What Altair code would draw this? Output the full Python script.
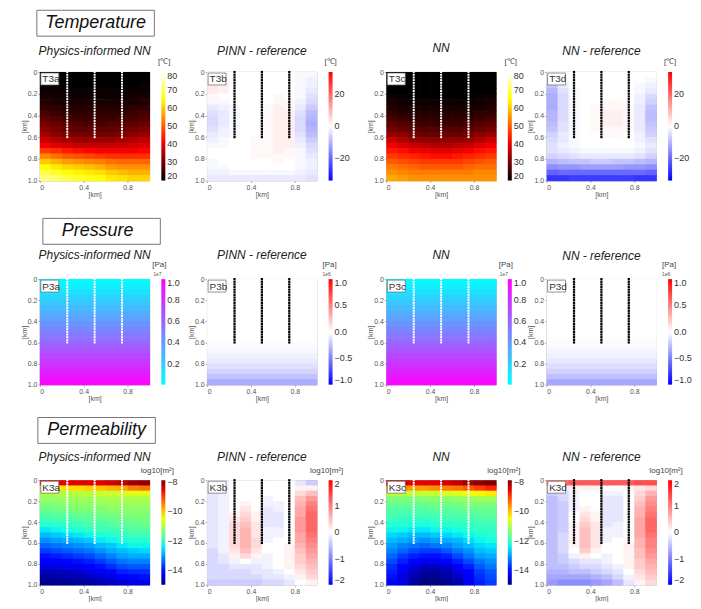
import altair as alt
import pandas as pd

FONT = "Liberation Sans"

# ---------------- grid geometry (km) ----------------
X_EDGES = [0.0, 0.1, 0.2, 0.3, 0.4, 0.5, 0.6, 0.7, 0.8, 0.9, 1.0]
Y_EDGES = [0.0, 0.05, 0.1, 0.15, 0.2, 0.25, 0.3, 0.35, 0.4, 0.45, 0.5,
           0.55, 0.6, 0.65, 0.7, 0.75, 0.8, 0.85, 0.9, 0.95, 1.0]
WELL_X = [0.25, 0.5, 0.75]
WELL_DEPTHS = [0.0, 0.025, 0.05, 0.075, 0.1, 0.125, 0.15, 0.175, 0.2, 0.225,
               0.25, 0.275, 0.3, 0.325, 0.35, 0.375, 0.4, 0.425, 0.45, 0.475,
               0.5, 0.525, 0.55, 0.575, 0.6]

# ---------------- temperature [degC] ----------------
T3A = [
    [20, 20, 20, 20, 20, 20, 20, 20, 20, 20],
    [20, 20, 20, 20, 20, 20, 20, 20, 20, 20],
    [21, 20, 20, 20, 20, 20, 20, 20, 20, 21],
    [21, 21, 21, 21, 21, 21, 21, 21, 21, 21],
    [22, 22, 21, 21, 21, 21, 21, 21, 22, 22],
    [23, 22, 22, 22, 22, 22, 22, 22, 22, 23],
    [24, 24, 23, 23, 23, 23, 23, 23, 24, 24],
    [26, 25, 24, 24, 24, 24, 24, 24, 25, 26],
    [28, 27, 26, 25, 25, 25, 25, 26, 26, 27],
    [30, 29, 27, 27, 26, 26, 27, 27, 28, 29],
    [32, 30, 29, 28, 28, 28, 28, 29, 30, 31],
    [34, 32, 31, 30, 30, 30, 30, 31, 32, 33],
    [37, 35, 34, 33, 33, 33, 33, 34, 35, 36],
    [41, 39, 38, 37, 37, 37, 37, 37, 38, 39],
    [47, 46, 44, 43, 42, 41, 41, 41, 41, 42],
    [54, 52, 50, 49, 48, 47, 46, 46, 46, 46],
    [60, 58, 56, 55, 54, 53, 52, 51, 51, 51],
    [65, 63, 61, 60, 59, 58, 56, 55, 55, 55],
    [69, 67, 65, 64, 63, 62, 60, 59, 58, 58],
    [72, 71, 69, 67, 66, 65, 63, 62, 61, 61],
]
T3B = [
    [1, 1, 0, 0, 0, 0, 0, 0, -1, -1],
    [2, 1, 0, 0, 0, 0, 0, 0, -1, -2],
    [3, 2, 0, 0, 0, 0, 0, 0, -1, -2],
    [3, 2, 0, 0, 0, 0, 0, 0, -1, -3],
    [1, 0, 0, 0, 0, 0, 1, 0, -1, -4],
    [-1, -1, 0, 0, 0, 0, 1, 1, -2, -5],
    [-3, -2, -1, 0, 0, 1, 2, 1, -3, -7],
    [-4, -3, -1, 0, 0, 1, 2, 2, -4, -9],
    [-5, -3, -1, 0, 0, 1, 2, 2, -5, -10],
    [-5, -3, -1, 0, 0, 1, 2, 2, -5, -11],
    [-4, -2, -1, 0, 0, 1, 2, 2, -5, -10],
    [-3, -2, -1, 0, 0, 1, 2, 2, -4, -9],
    [-2, -1, 0, 0, 1, 1, 2, 2, -3, -7],
    [-1, -1, 0, 0, 1, 1, 2, 2, -2, -5],
    [0, 0, 0, 0, 1, 1, 2, 1, -1, -4],
    [0, 0, 0, 0, 1, 1, 1, 1, -1, -3],
    [-1, 0, 0, 0, 0, 0, 1, 0, -1, -2],
    [-1, -1, 0, 0, 0, 0, 0, 0, -1, -2],
    [-2, -2, -1, -1, -1, -1, -1, -1, -2, -3],
    [-3, -3, -3, -3, -3, -3, -3, -3, -3, -4],
]
T3C = [
    [20, 20, 20, 20, 20, 20, 20, 20, 20, 20],
    [20, 20, 20, 20, 20, 20, 20, 20, 20, 20],
    [20, 20, 20, 20, 20, 20, 20, 20, 20, 20],
    [20, 20, 20, 20, 20, 20, 20, 20, 20, 20],
    [21, 21, 20, 20, 20, 20, 20, 20, 21, 21],
    [22, 21, 21, 21, 21, 21, 21, 21, 21, 22],
    [23, 22, 22, 22, 22, 22, 22, 22, 22, 23],
    [24, 23, 23, 23, 23, 23, 23, 23, 24, 24],
    [26, 25, 24, 24, 24, 24, 24, 24, 25, 26],
    [28, 27, 26, 25, 25, 25, 25, 26, 27, 28],
    [30, 29, 28, 27, 27, 27, 27, 28, 29, 30],
    [33, 32, 30, 29, 29, 29, 29, 30, 32, 33],
    [37, 35, 33, 32, 32, 32, 32, 33, 35, 37],
    [41, 39, 37, 36, 35, 35, 36, 37, 39, 41],
    [44, 43, 41, 40, 39, 39, 40, 41, 43, 44],
    [47, 46, 45, 44, 43, 43, 44, 45, 46, 47],
    [50, 49, 48, 47, 47, 47, 47, 48, 49, 50],
    [53, 52, 51, 50, 50, 50, 50, 51, 52, 52],
    [55, 54, 53, 53, 53, 53, 53, 53, 54, 54],
    [57, 56, 55, 55, 55, 55, 55, 55, 55, 55],
]
T3D = [
    [-2, 0, 0, 0, 0, 0, 0, 0, 0, 0],
    [-5, -1, 0, 0, 0, 0, 0, 0, 0, -1],
    [-8, -3, 0, 0, 0, 0, 0, 0, -1, -2],
    [-10, -4, -1, 0, 0, 0, 0, 0, -1, -3],
    [-11, -5, -1, 0, 0, 0, 0, 0, -2, -5],
    [-11, -5, -1, 0, 0, 1, 1, 0, -2, -6],
    [-11, -5, -1, 0, 1, 1, 1, 1, -3, -8],
    [-10, -5, -1, 0, 1, 2, 2, 1, -3, -9],
    [-10, -5, -1, 0, 1, 2, 2, 1, -3, -9],
    [-9, -4, -1, 0, 1, 2, 2, 1, -3, -8],
    [-8, -4, -1, 0, 1, 1, 1, 1, -3, -7],
    [-6, -3, -1, 0, 0, 1, 1, 0, -2, -6],
    [-5, -3, -1, 0, 0, 0, 0, 0, -2, -4],
    [-4, -2, -1, 0, 0, 0, 0, 0, -1, -3],
    [-4, -3, -2, -1, -1, -1, -1, -1, -2, -4],
    [-6, -5, -4, -3, -3, -3, -3, -3, -4, -6],
    [-10, -9, -8, -8, -7, -7, -8, -8, -9, -10],
    [-15, -14, -14, -13, -13, -13, -13, -14, -14, -15],
    [-21, -20, -20, -20, -20, -20, -20, -20, -20, -21],
    [-27, -27, -26, -26, -26, -26, -26, -26, -27, -27],
]

# ---------------- pressure [x1e7 Pa / x1e6 Pa], depth profiles ----------------
P3A = [0.02, 0.07, 0.12, 0.17, 0.22, 0.27, 0.32, 0.37, 0.42, 0.47,
       0.52, 0.57, 0.62, 0.67, 0.72, 0.77, 0.82, 0.87, 0.92, 0.97]
P3B = [0, 0, 0, 0, 0, 0, 0, 0, 0, 0,
       0, 0, -0.01, -0.03, -0.05, -0.08, -0.12, -0.17, -0.24, -0.33]
P3C = [0.02, 0.07, 0.12, 0.17, 0.22, 0.27, 0.32, 0.37, 0.42, 0.47,
       0.52, 0.57, 0.62, 0.67, 0.72, 0.77, 0.82, 0.87, 0.92, 0.97]
P3D = [0, 0, 0, 0, 0, 0, 0, 0, 0, 0,
       0, -0.01, -0.02, -0.04, -0.06, -0.09, -0.13, -0.18, -0.25, -0.35]

# ---------------- permeability [log10 m2] ----------------
K3A = [
    [-8.5, -8.5, -8.5, -8.5, -8.5, -8.5, -8.4, -8.3, -8.1, -8.0],
    [-10.3, -10.3, -10.2, -10.2, -10.1, -10.0, -9.9, -9.8, -9.5, -9.4],
    [-11.0, -11.0, -11.0, -10.9, -10.9, -10.8, -10.8, -10.7, -10.6, -10.6],
    [-11.2, -11.2, -11.2, -11.1, -11.1, -11.1, -11.0, -11.0, -11.0, -11.0],
    [-11.4, -11.4, -11.3, -11.3, -11.3, -11.2, -11.2, -11.2, -11.2, -11.2],
    [-11.6, -11.5, -11.5, -11.4, -11.4, -11.4, -11.3, -11.3, -11.3, -11.3],
    [-11.8, -11.7, -11.7, -11.6, -11.6, -11.5, -11.5, -11.4, -11.4, -11.4],
    [-12.0, -11.9, -11.9, -11.8, -11.7, -11.7, -11.6, -11.6, -11.5, -11.5],
    [-12.2, -12.2, -12.1, -12.0, -11.9, -11.9, -11.8, -11.7, -11.7, -11.6],
    [-12.5, -12.4, -12.3, -12.2, -12.1, -12.0, -12.0, -11.9, -11.8, -11.8],
    [-12.8, -12.7, -12.6, -12.5, -12.4, -12.3, -12.2, -12.1, -12.0, -12.0],
    [-13.1, -13.0, -12.9, -12.8, -12.7, -12.5, -12.4, -12.3, -12.2, -12.2],
    [-13.4, -13.3, -13.2, -13.1, -13.0, -12.8, -12.7, -12.5, -12.4, -12.4],
    [-13.7, -13.6, -13.5, -13.4, -13.3, -13.1, -12.9, -12.8, -12.7, -12.6],
    [-14.0, -13.9, -13.8, -13.7, -13.6, -13.4, -13.2, -13.0, -12.9, -12.9],
    [-14.2, -14.1, -14.1, -14.0, -13.9, -13.7, -13.5, -13.3, -13.2, -13.2],
    [-14.4, -14.4, -14.3, -14.3, -14.2, -14.0, -13.8, -13.6, -13.5, -13.5],
    [-14.6, -14.6, -14.6, -14.5, -14.4, -14.3, -14.1, -13.9, -13.8, -13.8],
    [-14.8, -14.8, -14.7, -14.7, -14.6, -14.5, -14.4, -14.2, -14.1, -14.0],
    [-14.9, -14.9, -14.9, -14.8, -14.8, -14.7, -14.6, -14.5, -14.4, -14.3],
]
K3B = [
    [-0.1, -0.1, 0, 0, 0, 0, 0, 0, -0.2, -0.4],
    [-0.2, -0.1, 0, 0, 0, 0, 0, 0, 0.1, 0.1],
    [-0.2, -0.1, 0, 0, 0, 0, 0, 0, 0.3, 0.5],
    [-0.2, -0.1, 0, 0, 0, -0.1, 0, 0, 0.5, 0.8],
    [-0.2, -0.1, 0, 0.1, 0, -0.1, -0.1, 0, 0.6, 1.0],
    [-0.2, -0.1, 0, 0.2, 0, -0.2, -0.1, 0, 0.7, 1.1],
    [-0.2, -0.1, 0.1, 0.3, 0.1, -0.2, -0.2, 0, 0.7, 1.2],
    [-0.2, -0.1, 0.2, 0.4, 0.1, -0.2, -0.2, 0, 0.8, 1.2],
    [-0.2, -0.1, 0.3, 0.5, 0.2, -0.2, -0.2, 0, 0.8, 1.2],
    [-0.2, -0.1, 0.3, 0.6, 0.2, -0.1, -0.1, 0, 0.8, 1.2],
    [-0.2, -0.1, 0.3, 0.6, 0.2, -0.1, -0.1, 0, 0.7, 1.1],
    [-0.2, -0.1, 0.3, 0.6, 0.3, -0.1, 0, 0, 0.7, 1.0],
    [-0.2, -0.1, 0.3, 0.6, 0.3, 0, 0, 0.1, 0.6, 0.9],
    [-0.3, -0.1, 0.2, 0.5, 0.2, 0, 0, 0.1, 0.5, 0.8],
    [-0.3, -0.2, 0.1, 0.3, 0.1, -0.1, 0, 0.1, 0.4, 0.7],
    [-0.3, -0.2, -0.1, 0, -0.1, -0.1, 0, 0.1, 0.4, 0.6],
    [-0.3, -0.3, -0.2, -0.2, -0.2, -0.1, 0, 0.1, 0.3, 0.5],
    [-0.3, -0.3, -0.3, -0.3, -0.2, -0.2, -0.1, 0, 0.2, 0.4],
    [-0.3, -0.3, -0.3, -0.3, -0.3, -0.2, -0.2, -0.1, 0.1, 0.3],
    [-0.4, -0.4, -0.4, -0.4, -0.4, -0.3, -0.3, -0.2, 0, 0.1],
]
K3C = [
    [-8.4, -8.4, -8.5, -8.5, -8.5, -8.4, -8.3, -8.1, -8.0, -7.9],
    [-9.6, -9.6, -9.7, -9.7, -9.6, -9.5, -9.4, -9.2, -9.0, -8.8],
    [-10.9, -10.9, -10.9, -10.8, -10.8, -10.7, -10.6, -10.5, -10.4, -10.3],
    [-11.4, -11.4, -11.4, -11.3, -11.3, -11.3, -11.2, -11.2, -11.1, -11.1],
    [-11.6, -11.6, -11.6, -11.6, -11.5, -11.5, -11.5, -11.4, -11.4, -11.4],
    [-11.8, -11.8, -11.8, -11.8, -11.7, -11.7, -11.7, -11.6, -11.6, -11.6],
    [-11.9, -11.9, -11.9, -11.9, -11.9, -11.8, -11.8, -11.8, -11.7, -11.7],
    [-12.0, -12.1, -12.1, -12.1, -12.0, -12.0, -12.0, -11.9, -11.9, -11.8],
    [-12.2, -12.2, -12.3, -12.3, -12.2, -12.2, -12.1, -12.1, -12.0, -12.0],
    [-12.4, -12.4, -12.5, -12.5, -12.4, -12.4, -12.3, -12.2, -12.1, -12.1],
    [-12.6, -12.7, -12.8, -12.8, -12.7, -12.6, -12.5, -12.4, -12.3, -12.2],
    [-12.8, -12.9, -13.0, -13.1, -13.0, -12.9, -12.8, -12.6, -12.4, -12.3],
    [-13.0, -13.2, -13.3, -13.4, -13.3, -13.2, -13.0, -12.8, -12.6, -12.5],
    [-13.2, -13.4, -13.6, -13.7, -13.7, -13.5, -13.3, -13.1, -12.8, -12.7],
    [-13.4, -13.7, -13.9, -14.0, -14.0, -13.9, -13.6, -13.3, -13.0, -12.9],
    [-13.6, -13.9, -14.2, -14.3, -14.3, -14.2, -13.9, -13.6, -13.3, -13.1],
    [-13.8, -14.1, -14.4, -14.6, -14.6, -14.5, -14.2, -13.9, -13.5, -13.3],
    [-13.9, -14.3, -14.6, -14.8, -14.8, -14.7, -14.4, -14.1, -13.7, -13.5],
    [-14.0, -14.4, -14.7, -14.9, -14.9, -14.8, -14.6, -14.2, -13.8, -13.6],
    [-14.1, -14.4, -14.8, -15.0, -15.0, -14.9, -14.7, -14.3, -13.9, -13.7],
]
K3D = [
    [1.2, 1.2, 1.3, 1.3, 1.3, 1.3, 1.3, 1.3, 1.4, 1.4],
    [-0.2, -0.1, 0.1, 0.1, 0.1, 0, 0, 0.1, 0.2, 0.3],
    [-0.4, -0.3, -0.1, 0, 0, -0.1, -0.1, 0, 0.3, 0.6],
    [-0.5, -0.3, -0.1, 0, 0, -0.2, -0.2, 0, 0.4, 0.8],
    [-0.5, -0.4, -0.1, 0, 0, -0.2, -0.2, 0, 0.5, 0.9],
    [-0.5, -0.4, -0.1, 0.1, 0, -0.2, -0.2, 0, 0.6, 1.0],
    [-0.5, -0.4, 0, 0.2, 0.1, -0.2, -0.2, 0, 0.6, 1.1],
    [-0.5, -0.4, 0, 0.3, 0.1, -0.2, -0.2, 0, 0.7, 1.2],
    [-0.5, -0.4, 0.1, 0.4, 0.2, -0.2, -0.1, 0, 0.7, 1.2],
    [-0.5, -0.4, 0.1, 0.5, 0.2, -0.1, -0.1, 0, 0.7, 1.2],
    [-0.5, -0.3, 0.1, 0.5, 0.2, -0.1, -0.1, 0, 0.7, 1.1],
    [-0.5, -0.3, 0.1, 0.5, 0.2, -0.1, 0, 0, 0.6, 1.0],
    [-0.5, -0.3, 0.1, 0.5, 0.2, 0, 0, 0.1, 0.6, 1.0],
    [-0.5, -0.3, 0, 0.4, 0.1, 0, 0, 0.1, 0.5, 0.9],
    [-0.5, -0.4, -0.1, 0.1, 0, -0.1, 0, 0.1, 0.5, 0.8],
    [-0.5, -0.4, -0.3, -0.2, -0.2, -0.1, 0, 0.1, 0.4, 0.7],
    [-0.5, -0.5, -0.4, -0.3, -0.3, -0.2, -0.1, 0.1, 0.4, 0.6],
    [-0.6, -0.6, -0.5, -0.5, -0.4, -0.3, -0.2, 0, 0.3, 0.5],
    [-0.7, -0.7, -0.7, -0.7, -0.6, -0.5, -0.3, -0.1, 0.2, 0.4],
    [-0.8, -0.9, -0.9, -0.9, -0.8, -0.7, -0.5, -0.2, 0.1, 0.3],
]

# ---------------- colour maps (matplotlib hot / bwr / cool / jet) ----------------
JET_T = [0.0, 0.11, 0.125, 0.34, 0.375, 0.5, 0.64, 0.66, 0.89, 0.91, 1.0]
JET_C = ["#000080", "#0000ff", "#0000ff", "#00dbff", "#14ffe3", "#7aff7a",
         "#f0ff08", "#ffed00", "#ff1200", "#e80000", "#800000"]


def scale_hot():
    return alt.Scale(domain=[20, 41.9, 64.8, 80],
                     range=["#000000", "#ff0000", "#ffff00", "#ffffff"],
                     interpolate="rgb", clamp=True)


def scale_bwr(m):
    return alt.Scale(domain=[-m, 0, m], range=["#0000ff", "#ffffff", "#ff0000"],
                     interpolate="rgb", clamp=True)


def scale_cool():
    return alt.Scale(domain=[0, 1], range=["#00ffff", "#ff00ff"],
                     interpolate="rgb", clamp=True)


def scale_jet():
    return alt.Scale(domain=[-15 + 7.1 * t for t in JET_T], range=JET_C,
                     interpolate="rgb", clamp=True)


def grid_frame(grid):
    recs = []
    for i, row in enumerate(grid):
        for j, v in enumerate(row):
            recs.append({"x0": X_EDGES[j], "x1": X_EDGES[j + 1],
                         "y0": Y_EDGES[i], "y1": Y_EDGES[i + 1], "v": v})
    return pd.DataFrame(recs)


def profile_frame(profile):
    return pd.DataFrame([{"x0": X_EDGES[0], "x1": X_EDGES[-1],
                          "y0": Y_EDGES[i], "y1": Y_EDGES[i + 1], "v": v}
                         for i, v in enumerate(profile)])


WELLS = pd.DataFrame([{"wx": x, "wd": d} for x in WELL_X for d in WELL_DEPTHS])
ONE = pd.DataFrame({"k": [0]})

LBL = "datum.value == 0 ? '0' : format(datum.value, '.1f')"
AX = dict(labelFontSize=7, labelColor="#555", labelFont=FONT, tickColor="#777",
          tickSize=2, tickWidth=0.6, labelPadding=1, titleFontSize=7,
          titleFont=FONT, titleColor="#555", titleFontWeight="normal",
          titlePadding=0, domain=False, grid=False, labelOverlap=False)
X_TICKS = [0, 0.4, 0.8]
Y_TICKS = [0, 0.2, 0.4, 0.6, 0.8, 1.0]

W = 110


def panel(df, scale_fn, values, fmt, cb_title, cb_tx, cb_ty, label, title,
          title_y, dark, h, exp_text=None, exp_x=0, exp_y=0):
    xs = alt.Scale(domain=[0, 1], nice=False, zero=False)
    ys = alt.Scale(domain=[0, 1], nice=False, zero=False, reverse=True)
    heat = alt.Chart(df).mark_rect(x2Offset=0.7, y2Offset=0.7).encode(
        x=alt.X("x0:Q", title="[km]", scale=xs,
                axis=alt.Axis(values=X_TICKS, labelExpr=LBL, **AX)),
        x2="x1",
        y=alt.Y("y0:Q", title="[km]", scale=ys,
                axis=alt.Axis(values=Y_TICKS, labelExpr=LBL, **AX)),
        y2="y1",
        color=alt.Color("v:Q", scale=scale_fn(), legend=alt.Legend(
            type="gradient", orient="none", legendX=122, legendY=0,
            direction="vertical", gradientLength=h, gradientThickness=4,
            gradientStrokeWidth=0, values=values, format=fmt, labelFontSize=9,
            labelFont=FONT, labelColor="#333", labelOffset=2,
            labelOverlap=False, title=None, padding=0)),
    )
    wells = alt.Chart(WELLS).mark_square(
        size=5 if dark else 4, color="#000000" if dark else "#ffffff", opacity=1
    ).encode(
        x=alt.X("wx:Q", title="[km]", scale=xs,
                axis=alt.Axis(values=X_TICKS, labelExpr=LBL, **AX)),
        y=alt.Y("wd:Q", title="[km]", scale=ys,
                axis=alt.Axis(values=Y_TICKS, labelExpr=LBL, **AX)),
    )
    box = alt.Chart(ONE).mark_rect(fill="white", stroke="#666", strokeWidth=0.7).encode(
        x=alt.value(1), x2=alt.value(19), y=alt.value(1), y2=alt.value(13))
    lab = alt.Chart(ONE).mark_text(align="left", baseline="middle", fontSize=10,
                                   font=FONT, color="#333").encode(
        x=alt.value(2.5), y=alt.value(7.5), text=alt.value(label))
    ttl = alt.Chart(ONE).mark_text(align="center", baseline="alphabetic", fontSize=12,
                                   font=FONT, fontStyle="italic", color="#222").encode(
        x=alt.value(W / 2), y=alt.value(title_y), text=alt.value(title))
    cbt = alt.Chart(ONE).mark_text(align="center", baseline="alphabetic", fontSize=8,
                                   font=FONT, color="#444").encode(
        x=alt.value(cb_tx), y=alt.value(cb_ty), text=alt.value(cb_title))
    layers = [heat, wells, box, lab, ttl, cbt]
    if exp_text:
        layers.append(alt.Chart(ONE).mark_text(align="center", baseline="alphabetic",
                                               fontSize=5, font=FONT, color="#555").encode(
            x=alt.value(exp_x), y=alt.value(exp_y), text=alt.value(exp_text)))
    return alt.layer(*layers).properties(width=W, height=h)


def spacer(w, h=1):
    return alt.Chart(ONE).mark_point(opacity=0, size=1).encode(
        x=alt.value(0), y=alt.value(0)
    ).properties(width=w, height=h, view=alt.ViewBackground(strokeOpacity=0))


def header(text, h, bx, by, tx):
    box = alt.Chart(ONE).mark_rect(fill="white", stroke="#777", strokeWidth=1).encode(
        x=alt.value(bx), x2=alt.value(bx + 118), y=alt.value(by), y2=alt.value(by + 26))
    txt = alt.Chart(ONE).mark_text(align="center", baseline="middle", fontSize=18,
                                   font=FONT, fontStyle="italic", color="#111").encode(
        x=alt.value(tx), y=alt.value(by + 13), text=alt.value(text))
    return alt.layer(box, txt).properties(width=W, height=h,
                                          view=alt.ViewBackground(strokeOpacity=0))


S1, S2, S3 = 58, 70, 51
HT, HP, HK = 109, 106, 105
T_VALS = [20, 30, 40, 50, 60, 70, 80]
TD_VALS = [-20, 0, 20]
P_VALS = [0.2, 0.4, 0.6, 0.8, 1.0]
PD_VALS = [-1.0, -0.5, 0.0, 0.5, 1.0]
K_VALS = [-14, -12, -10, -8]
KD_VALS = [-2, -1, 0, 1, 2]

rowT = [
    panel(grid_frame(T3A), scale_hot, T_VALS, "d", "[℃]", 125, -8, "T3a",
          "Physics-informed NN", -17, False, HT),
    spacer(S1),
    panel(grid_frame(T3B), lambda: scale_bwr(34), TD_VALS, "d", "[℃]", 124, -8, "T3b",
          "PINN - reference", -17, True, HT),
    spacer(S2),
    panel(grid_frame(T3C), scale_hot, T_VALS, "d", "[℃]", 125, -8, "T3c",
          "NN", -20, False, HT),
    spacer(S3),
    panel(grid_frame(T3D), lambda: scale_bwr(34), TD_VALS, "d", "[℃]", 124, -8, "T3d",
          "NN - reference", -17, True, HT),
]
rowP = [
    panel(profile_frame(P3A), scale_cool, P_VALS, ".1f", "[Pa]", 120, -12, "P3a",
          "Physics-informed NN", -20, False, HP, "1e7", 118, -3),
    spacer(S1),
    panel(profile_frame(P3B), lambda: scale_bwr(1.0), PD_VALS, ".1f", "[Pa]", 123, -12,
          "P3b", "PINN - reference", -20, True, HP, "1e6", 120, -3),
    spacer(S2),
    panel(profile_frame(P3C), scale_cool, P_VALS, ".1f", "[Pa]", 120, -12, "P3c",
          "NN", -20, False, HP, "1e7", 118, -3),
    spacer(S3),
    panel(profile_frame(P3D), lambda: scale_bwr(1.0), PD_VALS, ".1f", "[Pa]", 123, -12,
          "P3d", "NN - reference", -19, True, HP, "1e6", 120, -3),
]
rowK = [
    panel(grid_frame(K3A), scale_jet, K_VALS, "d", "log10[m²]", 118, -7, "K3a",
          "Physics-informed NN", -19, False, HK),
    spacer(S1),
    panel(grid_frame(K3B), lambda: scale_bwr(2), KD_VALS, "d", "log10[m²]", 120, -7,
          "K3b", "PINN - reference", -19, True, HK),
    spacer(S2),
    panel(grid_frame(K3C), scale_jet, K_VALS, "d", "log10[m²]", 118, -7, "K3c",
          "NN", -19, False, HK),
    spacer(S3),
    panel(grid_frame(K3D), lambda: scale_bwr(2), KD_VALS, "d", "log10[m²]", 120, -7,
          "K3d", "NN - reference", -19, True, HK),
]


def filler_row(head):
    return [head, spacer(S1), spacer(1), spacer(S2), spacer(1), spacer(S3), spacer(1)]


cells = (filler_row(header("Temperature", 62, -3, 0, 56)) + rowT
         + filler_row(header("Pressure", 99, 3, 38, 58)) + rowP
         + filler_row(header("Permeability", 96, -2, 33, 57)) + rowK)

chart = alt.concat(*cells, columns=7, spacing=0, bounds="flush", align="each").resolve_scale(
    color="independent"
).resolve_legend(
    color="independent"
).properties(
    padding={"left": 11, "top": 0, "right": 0, "bottom": -2}
).configure_view(stroke="#999", strokeWidth=0.8)

chart.save("out.html", embed_options={"renderer": "svg", "actions": False})
